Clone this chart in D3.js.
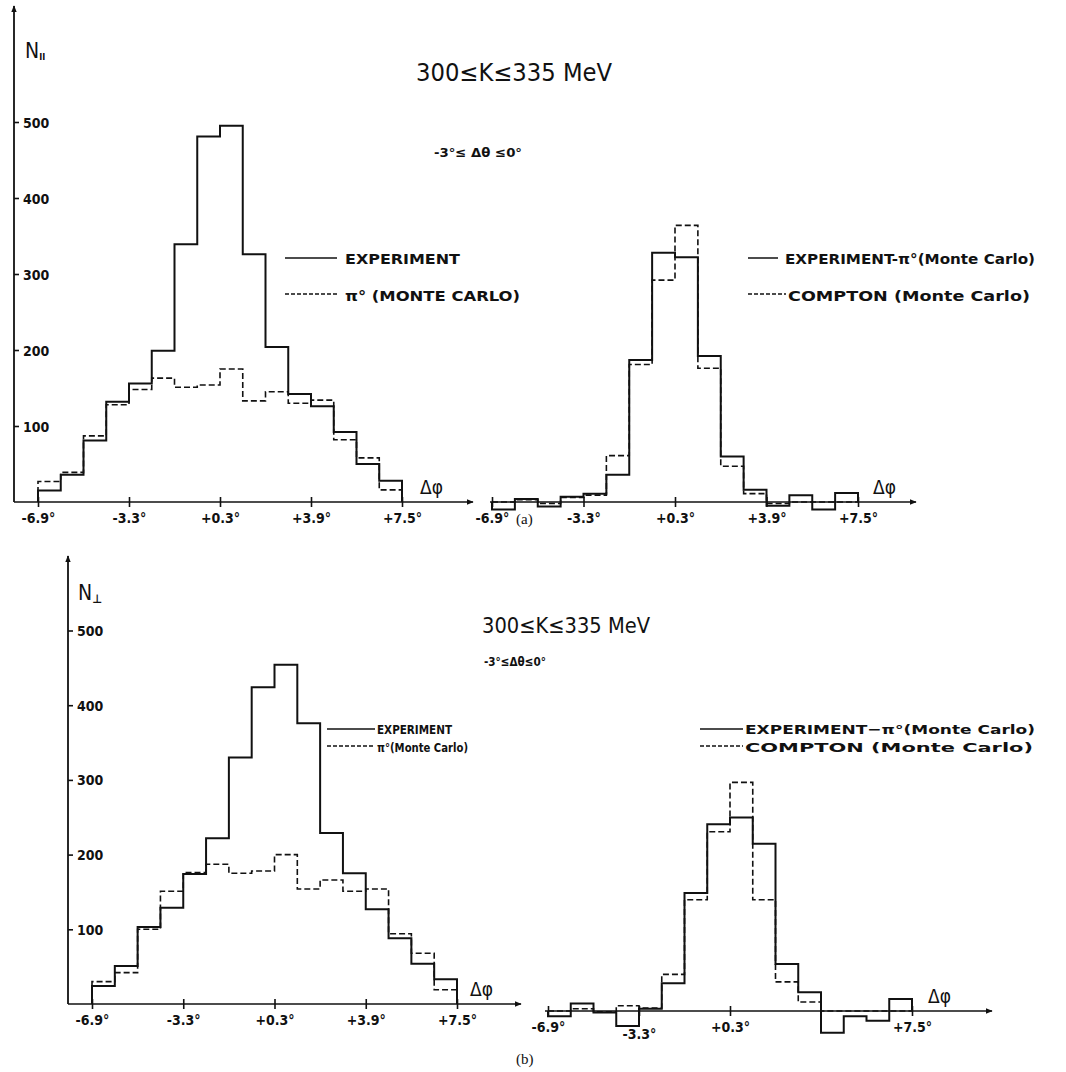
<!DOCTYPE html>
<html>
<head>
<meta charset="utf-8">
<script src="https://cdn.jsdelivr.net/npm/d3@7"></script>
<style>
  body { margin: 0; background: #fff; }
  svg { display: block; }
  .lbl { font-family: "DejaVu Sans Condensed", "DejaVu Sans", sans-serif; font-weight: bold; fill: #111; }
  .ttl { font-family: "DejaVu Sans Condensed", "DejaVu Sans", sans-serif; fill: #111; }
  .tick text { font-family: "DejaVu Sans Condensed", "DejaVu Sans", sans-serif; font-weight: bold; fill: #111; }
</style>
</head>
<body>
<div id="chart"></div>
<script>
// bin edges of delta phi (degrees) and tick labels
var binEdges = [-6.9, -6.0, -5.1, -4.2, -3.3, -2.4, -1.5, -0.6, 0.3, 1.2, 2.1, 3.0, 3.9, 4.8, 5.7, 6.6, 7.5];
var xTicks = [-6.9, -3.3, 0.3, 3.9, 7.5];
var xTickLabels = ["-6.9°", "-3.3°", "+0.3°", "+3.9°", "+7.5°"];
var yTicks = [100, 200, 300, 400, 500];

// (a) N parallel
var aExperiment = [15, 36, 81, 132, 156, 199, 339, 481, 495, 326, 204, 142, 126, 92, 50, 28];
var aPi0 = [27, 39, 87, 128, 148, 163, 151, 154, 175, 133, 145, 130, 134, 82, 58, 16];
var aDiff = [-10, 4, -6, 7, 11, 36, 187, 328, 322, 192, 60, 16, -5, 9, -10, 12];
var aCompton = [0, 3, -2, 6, 9, 61, 181, 292, 364, 176, 47, 11, -2, 0, 0, 0];

// (b) N perpendicular
var bExperiment = [24, 51, 103, 129, 174, 222, 330, 424, 454, 376, 229, 175, 127, 88, 54, 33];
var bPi0 = [30, 42, 100, 151, 176, 187, 175, 178, 200, 154, 166, 151, 154, 94, 68, 19];
var bDiff = [-7, 10, -2, -20, 3, 37, 158, 250, 259, 224, 63, 25, -29, -7, -13, 16];
var bCompton = [0, 3, -1, 7, 4, 49, 149, 240, 306, 149, 39, 12, 0, 0, 0, 0];

var w = 1066, h = 1072;
var svg = d3.select("#chart").append("svg").attr("width", w).attr("height", h);

svg.append("defs").append("marker")
  .attr("id", "arr").attr("viewBox", "0 0 10 10")
  .attr("refX", 9).attr("refY", 5)
  .attr("markerWidth", 7).attr("markerHeight", 7)
  .attr("markerUnits", "userSpaceOnUse")
  .attr("orient", "auto")
  .append("path").attr("d", "M0,1 L10,5 L0,9 Z").attr("fill", "#111");

// step line for a histogram
function stepPath(x, y, values) {
  var pts = [[binEdges[0], 0]];
  values.forEach(function (v, i) { pts.push([binEdges[i], v]); });
  pts.push([binEdges[binEdges.length - 1], 0]);
  return d3.line()
    .x(function (d) { return x(d[0]); })
    .y(function (d) { return y(d[1]); })
    .curve(d3.curveStepAfter)(pts);
}

function panel(o) {
  var x = d3.scaleLinear().domain([-6.9, 7.5]).range([o.x0, o.x1]);
  var y = d3.scaleLinear().domain([0, 500]).range([o.base, o.base - 500 * o.k]);
  var g = svg.append("g");

  // x axis line with arrow
  g.append("line")
    .attr("x1", o.axStart).attr("x2", o.axEnd)
    .attr("y1", o.base).attr("y2", o.base)
    .attr("stroke", "#111").attr("stroke-width", 1.6)
    .attr("marker-end", "url(#arr)");

  var ticks = xTicks.filter(function (d, i) { return !(o.skip && o.skip[i]); });
  var xAxis = d3.axisBottom(x)
    .tickValues(ticks)
    .tickFormat(function (d) { return xTickLabels[xTicks.indexOf(d)]; })
    .tickSize(5).tickPadding(6);
  var ax = g.append("g").attr("transform", "translate(0," + o.base + ")").call(xAxis);
  ax.select(".domain").remove();
  ax.selectAll(".tick line").attr("y1", -5).attr("stroke", "#111").attr("stroke-width", 1.6);
  ax.selectAll(".tick text").style("font-size", "14px")
    .attr("y", function (d) { var i = xTicks.indexOf(d); return 11 + (o.drop ? o.drop[i] : 0); });

  if (o.yAxis) {
    g.append("line")
      .attr("x1", o.yx).attr("x2", o.yx)
      .attr("y1", o.base).attr("y2", o.yTop)
      .attr("stroke", "#111").attr("stroke-width", 1.8)
      .attr("marker-end", "url(#arr)");
    var yAxis = d3.axisRight(y).tickValues(yTicks).tickSize(5).tickPadding(4);
    var ay = g.append("g").attr("transform", "translate(" + o.yx + ",0)").call(yAxis);
    ay.select(".domain").remove();
    ay.selectAll(".tick line").attr("stroke", "#111").attr("stroke-width", 1.6);
    ay.selectAll(".tick text").style("font-size", "14px").attr("dy", "0.36em");
  }

  // dashed series first, solid on top
  g.append("path")
    .attr("d", stepPath(x, y, o.dashed))
    .attr("fill", "none").attr("stroke", "#111")
    .attr("stroke-width", 1.6).attr("stroke-dasharray", "6,3");
  g.append("path")
    .attr("d", stepPath(x, y, o.solid))
    .attr("fill", "none").attr("stroke", "#111")
    .attr("stroke-width", 2);

  g.append("text").attr("class", "ttl")
    .attr("x", o.dphiX).attr("y", o.base - 8)
    .style("font-size", "19px").text("Δφ");
}

panel({ x0: 38, x1: 402, base: 502, k: 0.76, axStart: 14, axEnd: 473, yAxis: true, yx: 14, yTop: 6,
  solid: aExperiment, dashed: aPi0, dphiX: 420 });
panel({ x0: 492, x1: 858, base: 502, k: 0.76, axStart: 490, axEnd: 916,
  solid: aDiff, dashed: aCompton, dphiX: 873 });
panel({ x0: 92, x1: 457, base: 1004, k: 0.747, axStart: 68, axEnd: 521, yAxis: true, yx: 68, yTop: 556,
  solid: bExperiment, dashed: bPi0, dphiX: 470 });
panel({ x0: 548, x1: 912, base: 1011, k: 0.747, axStart: 545, axEnd: 992,
  solid: bDiff, dashed: bCompton, dphiX: 928, drop: [0, 7, 0, 0, 0], skip: [false, false, false, true, false] });

// text helper
function txt(cls, x, y, size, s, len) {
  var t = svg.append("text").attr("class", cls).attr("x", x).attr("y", y)
    .style("font-size", size + "px").text(s);
  if (len) t.attr("textLength", len).attr("lengthAdjust", "spacingAndGlyphs");
  return t;
}
function legLine(x1, x2, y, dashed) {
  svg.append("line").attr("x1", x1).attr("x2", x2).attr("y1", y).attr("y2", y)
    .attr("stroke", "#111").attr("stroke-width", 1.5)
    .attr("stroke-dasharray", dashed ? "4,2" : null);
}

// axis names
var na = txt("ttl", 25, 58, 21, "N");
na.append("tspan").attr("dy", 2).style("font-size", "9px").style("font-weight", "bold").text("II");
var nb = txt("ttl", 78, 600, 21, "N");
nb.append("tspan").attr("dy", 3).style("font-size", "12px").style("font-weight", "bold").text("⊥");

// (a) texts
txt("ttl", 416, 81, 24, "300≤K≤335  MeV", 196);
txt("lbl", 434, 157, 13, "-3°≤ Δθ ≤0°", 88);
legLine(285, 337, 258, false);
txt("lbl", 345, 264, 14, "EXPERIMENT", 115);
legLine(285, 337, 294, true);
txt("lbl", 345, 301, 14, "π° (MONTE  CARLO)", 175);
legLine(748, 778, 258, false);
txt("lbl", 785, 264, 14, "EXPERIMENT-π°(Monte Carlo)", 250);
legLine(748, 786, 294, true);
txt("lbl", 788, 301, 14, "COMPTON  (Monte Carlo)", 242);

// (b) texts
txt("ttl", 482, 633, 22, "300≤K≤335 MeV", 168);
txt("lbl", 484, 666, 13, "-3°≤Δθ≤0°", 62);
legLine(327, 375, 729, false);
txt("lbl", 377, 734, 13, "EXPERIMENT", 75);
legLine(327, 375, 746, true);
txt("lbl", 377, 752, 13, "π°(Monte Carlo)", 91);
legLine(700, 743, 729, false);
txt("lbl", 745, 734, 13, "EXPERIMENT−π°(Monte Carlo)", 290);
legLine(700, 743, 746, true);
txt("lbl", 745, 752, 13, "COMPTON (Monte Carlo)", 288);

// panel captions
txt("ttl", 516, 524, 15, "(a)").style("font-family", "Liberation Serif, serif");
txt("ttl", 516, 1064, 15, "(b)").style("font-family", "Liberation Serif, serif");
</script>
</body>
</html>
